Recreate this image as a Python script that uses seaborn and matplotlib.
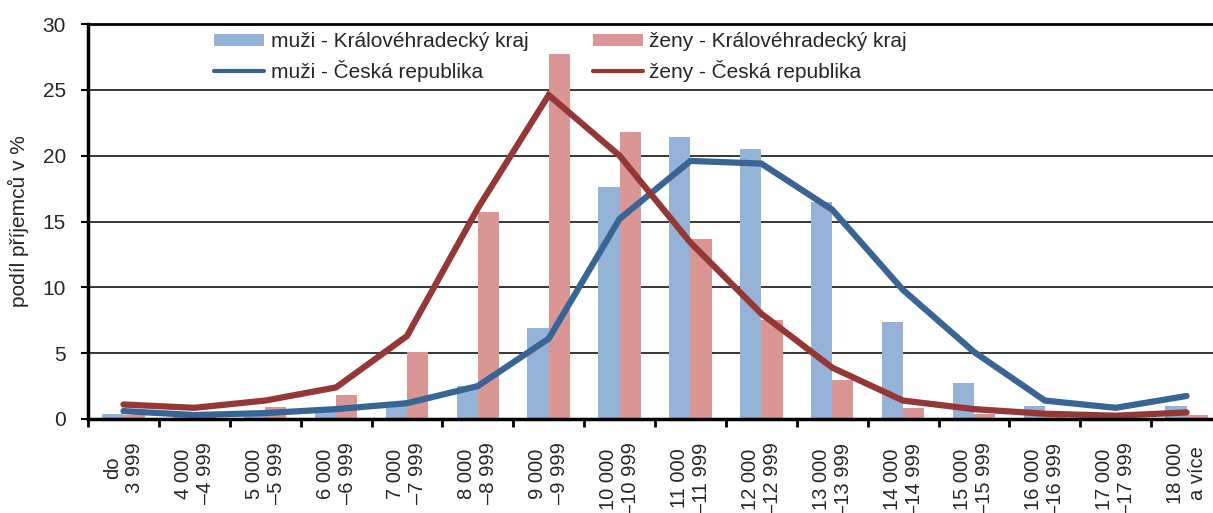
import numpy as np
import pandas as pd
import matplotlib
matplotlib.use("Agg")
import matplotlib.pyplot as plt
import seaborn as sns
from matplotlib.patches import Patch
from matplotlib.lines import Line2D

categories = ["do\n3 999", "4 000\n–4 999", "5 000\n–5 999", "6 000\n–6 999",
              "7 000\n–7 999", "8 000\n–8 999", "9 000\n–9 999", "10 000\n–10 999",
              "11 000\n–11 999", "12 000\n–12 999", "13 000\n–13 999", "14 000\n–14 999",
              "15 000\n–15 999", "16 000\n–16 999", "17 000\n–17 999", "18 000\na více"]

muzi_kraj = [0.4, 0.15, 0.3, 0.6, 1.0, 2.5, 6.9, 17.6, 21.4, 20.5, 16.5, 7.4, 2.7, 1.0, 0.3, 1.0]
zeny_kraj = [0.3, 0.2, 0.9, 1.8, 5.1, 15.7, 27.7, 21.8, 13.7, 7.5, 3.0, 0.8, 0.4, 0.2, 0.1, 0.3]
muzi_cr = [0.6, 0.3, 0.45, 0.75, 1.2, 2.5, 6.1, 15.2, 19.6, 19.4, 15.9, 9.8, 5.1, 1.4, 0.85, 1.75]
zeny_cr = [1.1, 0.85, 1.4, 2.4, 6.3, 16.0, 24.6, 20.0, 13.4, 8.0, 3.9, 1.4, 0.75, 0.4, 0.25, 0.5]

series_names = ["muži - Královéhradecký kraj", "ženy - Královéhradecký kraj",
                "muži - Česká republika", "ženy - Česká republika"]
y_ticks = [0, 5, 10, 15, 20, 25, 30]
y_label = "podíl příjemců v %"

c_bar_m = "#95B3D7"
c_bar_z = "#D99694"
c_line_m = "#386596"
c_line_z = "#953735"

sns.set_theme(style="white")
plt.rcParams["font.family"] = ["Liberation Sans", "DejaVu Sans"]

df = pd.DataFrame({
    "kategorie": categories * 2,
    "podil": muzi_kraj + zeny_kraj,
    "serie": [series_names[0]] * len(categories) + [series_names[1]] * len(categories),
})

W, H = 1213, 513
fig = plt.figure(figsize=(W / 100, H / 100), dpi=100)
ax = fig.add_axes([88 / W, 1 - 419 / H, (1222 - 88) / W, (419 - 24) / H])

sns.barplot(data=df, x="kategorie", y="podil", hue="serie", order=categories,
            hue_order=series_names[:2], palette=[c_bar_m, c_bar_z], saturation=1,
            width=0.6, gap=0, legend=False, ax=ax, errorbar=None,
            linewidth=0, edgecolor="none")

pos = np.arange(len(categories))
sns.lineplot(x=pos, y=muzi_cr, color=c_line_m, lw=4.5, sort=False, ax=ax,
             solid_capstyle="round", solid_joinstyle="miter")
sns.lineplot(x=pos, y=zeny_cr, color=c_line_z, lw=4.5, sort=False, ax=ax,
             solid_capstyle="round", solid_joinstyle="miter")

ax.set_xlim(-0.5, len(categories) - 0.5)
ax.set_ylim(0, 30)
ax.set_yticks(y_ticks)
ax.set_yticklabels([str(v) for v in y_ticks], fontsize=15)
ax.set_xticks(pos)
ax.set_xticklabels(categories, rotation=90, ha="center", va="top",
                   multialignment="center", fontsize=14.5)
ax.set_xticks(np.arange(-0.5, len(categories), 1), minor=True)
ax.tick_params(axis="x", which="major", length=0, pad=17)
ax.tick_params(axis="x", which="minor", length=6, width=2, color="black", direction="out", bottom=True)
ax.tick_params(axis="y", length=5, width=1.5, color="black", direction="out", left=True, pad=11)
ax.set_xlabel("")
ax.set_ylabel(y_label, fontsize=15)
ax.yaxis.set_label_coords(-0.052, 0.5)

ax.yaxis.grid(True, color="black", lw=1.1)
ax.set_axisbelow(True)
for s in ["left", "bottom"]:
    ax.spines[s].set_color("black")
    ax.spines[s].set_linewidth(2.5)
ax.spines["top"].set_color("black")
ax.spines["top"].set_linewidth(2)
ax.spines["right"].set_visible(False)

handles = [Patch(facecolor=c_bar_m, edgecolor="none"),
           Line2D([], [], color=c_line_m, lw=3),
           Patch(facecolor=c_bar_z, edgecolor="none"),
           Line2D([], [], color=c_line_z, lw=3)]
labels = [series_names[0], series_names[2], series_names[1], series_names[3]]
fig.legend(handles, labels, loc="upper left", bbox_to_anchor=(204 / W, 1 - 22 / H),
           ncol=2, frameon=False, fontsize=15, borderpad=0, handlelength=2.4,
           handleheight=0.45, handletextpad=0.3, columnspacing=3.1, labelspacing=0.4)

fig.savefig("out.png", dpi=100)
